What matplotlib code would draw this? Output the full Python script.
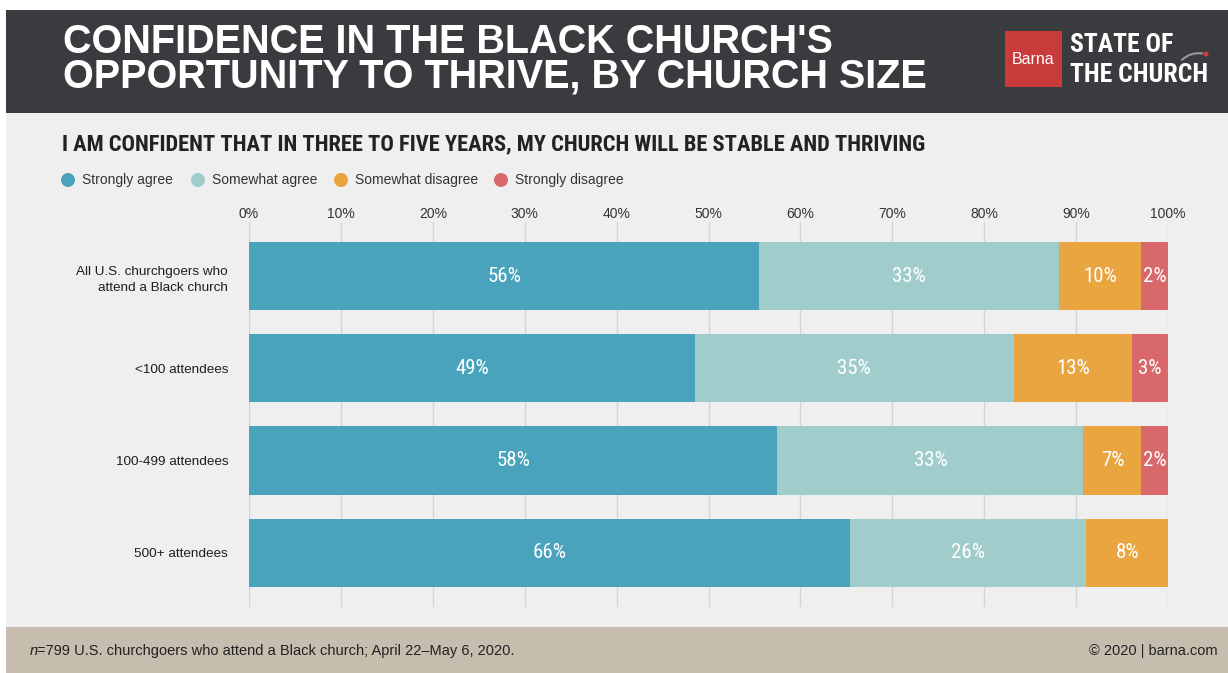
import matplotlib
matplotlib.use("Agg")
import matplotlib.pyplot as plt
from matplotlib.patches import Rectangle, Ellipse, FancyArrowPatch
from matplotlib import font_manager

# ---------------- data ----------------
categories = ["All U.S. churchgoers who\nattend a Black church", "<100 attendees",
              "100-499 attendees", "500+ attendees"]
series_names = ["Strongly agree", "Somewhat agree", "Somewhat disagree", "Strongly disagree"]
strongly_agree = [55.5, 48.5, 57.5, 65.4]
somewhat_agree = [32.6, 34.7, 33.3, 25.7]
somewhat_disagree = [9.0, 12.9, 6.3, 8.9]
strongly_disagree = [2.9, 3.9, 2.9, 0.0]
strongly_agree_labels = ["56%", "49%", "58%", "66%"]
somewhat_agree_labels = ["33%", "35%", "33%", "26%"]
somewhat_disagree_labels = ["10%", "13%", "7%", "8%"]
strongly_disagree_labels = ["2%", "3%", "2%", ""]
xticks = [0, 10, 20, 30, 40, 50, 60, 70, 80, 90, 100]
xtick_labels = ["0%", "10%", "20%", "30%", "40%", "50%", "60%", "70%", "80%", "90%", "100%"]

colors = ["#4aa3bd", "#a0cdcc", "#e9a540", "#d8686a"]

# ---------------- fonts ----------------
names = {f.name for f in font_manager.fontManager.ttflist}
SANS = "Liberation Sans" if "Liberation Sans" in names else "DejaVu Sans"
COND = "DejaVu Sans"
for cand in ["Roboto Condensed", "Liberation Sans Narrow", "Archivo Narrow", "Asap Condensed"]:
    if cand in names:
        COND = cand
        break
CSTRETCH = "condensed"

W, H = 1228, 673
fig = plt.figure(figsize=(W / 100, H / 100), dpi=100)
fig.patch.set_facecolor("white")


def fx(x):
    return x / W


def fy(y):
    return 1 - y / H


def rect(x0, y0, x1, y1, color, z=-5):
    fig.patches.append(Rectangle((fx(x0), fy(y1)), fx(x1) - fx(x0), fy(y0) - fy(y1),
                                 transform=fig.transFigure, facecolor=color,
                                 edgecolor="none", zorder=z))


def dot(x, y, r, color):
    fig.patches.append(Ellipse((fx(x), fy(y)), 2 * r / W, 2 * r / H, transform=fig.transFigure,
                               facecolor=color, edgecolor="none", zorder=2))


# background bands
rect(6, 10, W, 113, "#393b3e")
rect(6, 113, W, 627, "#efefef")
rect(6, 627, W, H, "#c6bdae")

# title
fig.text(fx(63), fy(42), "CONFIDENCE IN THE BLACK CHURCH'S", family=SANS, weight="bold",
         fontsize=28.5, color="white", va="center", ha="left")
fig.text(fx(63), fy(77), "OPPORTUNITY TO THRIVE, BY CHURCH SIZE", family=SANS, weight="bold",
         fontsize=28.5, color="white", va="center", ha="left")

# logo
rect(1005, 31, 1062, 87, "#c93b3b", z=1)
fig.text(fx(1033.5), fy(60), "Barna", family=SANS, fontsize=11.5, color="white",
         ha="center", va="center")
fig.text(fx(1070), fy(45), "STATE OF", family=COND, stretch=CSTRETCH, weight="bold",
         fontsize=18.5, color="white", ha="left", va="center")
fig.text(fx(1070), fy(75), "THE CHURCH", family=COND, stretch=CSTRETCH, weight="bold",
         fontsize=18.5, color="white", ha="left", va="center")
arc = FancyArrowPatch((fx(1180), fy(62)), (fx(1205), fy(54)), transform=fig.transFigure,
                      connectionstyle="arc3,rad=-0.3", arrowstyle="-", color="#9a9a9a", lw=1.5)
fig.patches.append(arc)
dot(1206, 54, 2.5, "#d23b3b")

# subtitle
fig.text(fx(62), fy(144), "I AM CONFIDENT THAT IN THREE TO FIVE YEARS, MY CHURCH WILL BE STABLE AND THRIVING",
         family=COND, stretch=CSTRETCH, weight="bold", fontsize=16.2, color="#222222",
         ha="left", va="center")

# legend
legend_x = [68, 198, 341, 501]
for name, c, lx in zip(series_names, colors, legend_x):
    dot(lx, 180, 7, c)
    fig.text(fx(lx + 14), fy(180), name, family=SANS, fontsize=10, color="#333333",
             ha="left", va="center")

# ---------------- chart ----------------
ax = fig.add_axes([fx(249), fy(607), (1168 - 249) / W, (607 - 222) / H])
ax.set_zorder(1)
ax.set_facecolor("none")
ypos = list(range(len(categories)))
series = [strongly_agree, somewhat_agree, somewhat_disagree, strongly_disagree]
series_labels = [strongly_agree_labels, somewhat_agree_labels, somewhat_disagree_labels,
                 strongly_disagree_labels]
left = [0.0] * len(categories)
for vals, labs, c in zip(series, series_labels, colors):
    ax.barh(ypos, vals, left=left, height=0.74, color=c, edgecolor="none", zorder=2)
    for i, (v, lab) in enumerate(zip(vals, labs)):
        if lab and v > 0:
            ax.text(left[i] + v / 2, ypos[i], lab, family=COND, stretch=CSTRETCH, fontsize=15,
                    color="white", ha="center", va="center", zorder=3)
    left = [l + v for l, v in zip(left, vals)]

ax.set_xlim(0, 100)
ax.set_ylim(3.59, -0.587)
ax.set_xticks(xticks)
ax.set_xticklabels(xtick_labels, family=SANS, fontsize=10, color="#333333")
ax.set_yticks(ypos)
ax.set_yticklabels(categories, family=SANS, fontsize=9.7, color="#1e1e1e", linespacing=1.45)
ax.tick_params(axis="x", top=True, labeltop=True, bottom=False, labelbottom=False,
               length=0, pad=1)
ax.tick_params(axis="y", left=False, length=0, pad=15)
for t in ax.get_yticklabels():
    t.set_multialignment("right")
ax.grid(axis="x", color="#d4d4d4", lw=1, zorder=0)
ax.grid(axis="y", visible=False)
ax.set_axisbelow(True)
for s in ax.spines.values():
    s.set_visible(False)

# footer
fig.text(fx(30), fy(651), "n", family=SANS, style="italic", fontsize=10.5, color="#222222",
         ha="left", va="center")
fig.text(fx(37), fy(651), "=799 U.S. churchgoers who attend a Black church; April 22\u2013May 6, 2020.",
         family=SANS, fontsize=10.5, color="#222222", ha="left", va="center")
fig.text(fx(1218), fy(651), "\u00a9 2020 | barna.com", family=SANS, fontsize=10.5,
         color="#222222", ha="right", va="center")

fig.savefig("out.png", dpi=100, facecolor=fig.get_facecolor())
